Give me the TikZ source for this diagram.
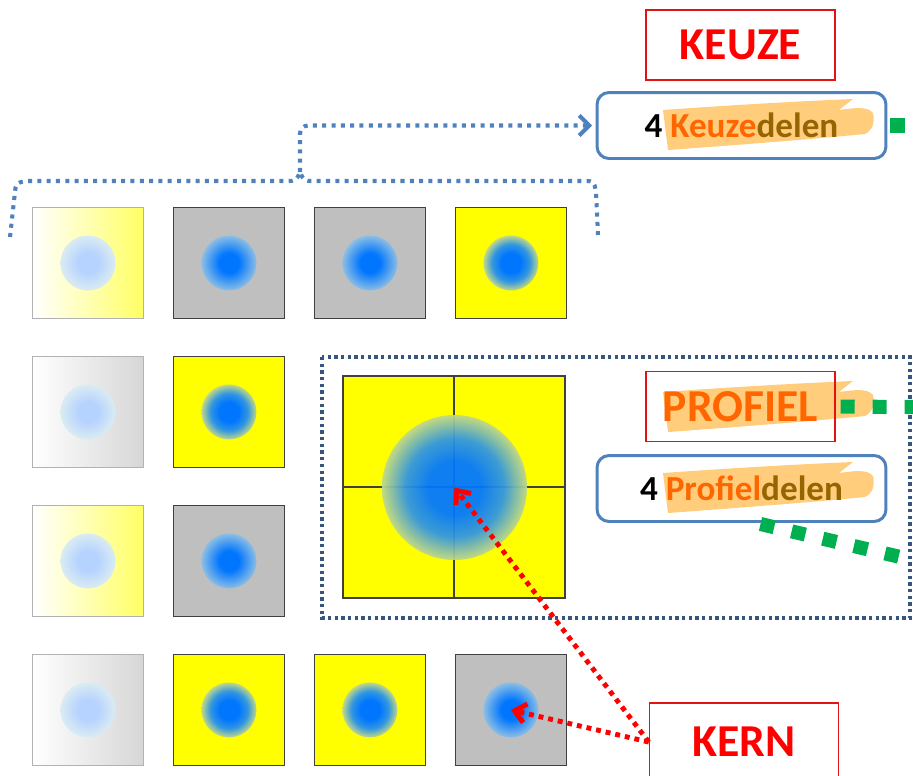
\documentclass[tikz,border=0pt]{standalone}
\usepackage{fontspec}
\setmainfont{Carlito}
\usetikzlibrary{arrows.meta, positioning, calc}

\definecolor{tilegray}{RGB}{191,191,191}
\definecolor{tileyel}{RGB}{255,255,0}
\definecolor{fadeyel}{RGB}{255,255,100}
\definecolor{coreblue}{RGB}{0,118,255}
\definecolor{edgegray}{RGB}{140,190,228}
\definecolor{edgeyel}{RGB}{192,216,135}
\definecolor{midyel}{RGB}{50,150,225}
\definecolor{palecore}{RGB}{182,210,255}
\definecolor{paleedge}{RGB}{218,236,242}
\definecolor{officeblue}{RGB}{79,129,189}
\definecolor{zoneblue}{RGB}{56,84,128}
\definecolor{markgreen}{RGB}{0,176,80}
\definecolor{textorange}{RGB}{255,102,0}
\definecolor{delenbrown}{RGB}{150,100,0}
\definecolor{hlorange}{RGB}{255,196,100}
\definecolor{framered}{RGB}{225,20,20}

\pgfdeclareradialshading{dotgray}{\pgfpoint{0bp}{0bp}}{color(0bp)=(coreblue); color(9bp)=(coreblue); color(25bp)=(edgegray); color(50bp)=(edgegray)}
\pgfdeclareradialshading{dotyellow}{\pgfpoint{0bp}{0bp}}{color(0bp)=(coreblue); color(9bp)=(coreblue); color(17bp)=(midyel); color(25bp)=(edgeyel); color(50bp)=(edgeyel)}
\pgfdeclareradialshading{dotpale}{\pgfpoint{0bp}{0bp}}{color(0bp)=(palecore); color(9bp)=(palecore); color(25bp)=(paleedge); color(50bp)=(paleedge)}

% marker stroke behind the words
\newcommand{\hlmark}[2]{%
  \fill[hlorange, fill opacity=0.85, shift={(#1,#2)}] (0,0) .. controls (70,-5) and (140,-9) .. (190,-11) -- (176,0) .. controls (190,-2) and (205,-4) .. (210,3) .. controls (212,12) and (210,20) .. (202,24) .. controls (140,30) and (60,36) .. (5,40) -- cycle;}

\tikzset{
  tile/.style={draw=black!75, line width=0.6pt, minimum size=2.22cm, inner sep=0pt},
  graytile/.style={tile, fill=tilegray},
  yeltile/.style={tile, fill=tileyel},
  fadeyeltile/.style={tile, draw=black!30, left color=white, right color=fadeyel},
  fadegraytile/.style={tile, draw=black!30, left color=white, right color=black!16},
  dotg/.style={circle, minimum size=1.1cm, inner sep=0pt, shading=dotgray},
  doty/.style={dotg, shading=dotyellow},
  dotp/.style={dotg, shading=dotpale},
  title/.style={draw=framered, line width=0.85pt, minimum width=3.78cm, minimum height=1.4cm, font=\fontsize{26}{30}\selectfont\bfseries},
  delenbox/.style={draw=officeblue, line width=1.7pt, rounded corners=0.24cm, minimum width=5.78cm, minimum height=1.32cm, font=\fontsize{20}{24}\selectfont\bfseries},
  bluedots/.style={draw=officeblue, line width=2.3pt, dash pattern=on 2.3pt off 3pt},
  zonedots/.style={draw=zoneblue, line width=1.9pt, dash pattern=on 1.9pt off 1.9pt},
  reddots/.style={draw=red, line width=2.8pt, dash pattern=on 2.8pt off 2.8pt, -{Straight Barb[length=2.2mm, width=3.8mm]}},
  greendots/.style={draw=markgreen, line width=8pt, dash pattern=on 8pt off 10.2pt},
}

\begin{document}
\begin{tikzpicture}[x=0.02cm, y=-0.02cm, node distance=2.82cm]
\useasboundingbox (0,0) rectangle (913,775);

% Tiles, row by row
\node (t11) [fadeyeltile] at (88,263) {};
\node (t12) [graytile, right of=t11] {};
\node (t13) [graytile, right of=t12] {};
\node (t14) [yeltile, right of=t13] {};
\node (t21) [fadegraytile, below of=t11, yshift=-0.16cm] {};
\node (t22) [yeltile, right of=t21] {};
\node (t31) [fadeyeltile, below of=t21, yshift=-0.16cm] {};
\node (t32) [graytile, right of=t31] {};
\node (t41) [fadegraytile, below of=t31, yshift=-0.16cm] {};
\node (t42) [yeltile, right of=t41] {};
\node (t43) [yeltile, right of=t42] {};
\node (t44) [graytile, right of=t43] {};

% Dots in the tiles
\node (d11) [dotp] at (t11) {};
\node (d12) [dotg] at (t12) {};
\node (d13) [dotg] at (t13) {};
\node (d14) [doty] at (t14) {};
\node (d21) [dotp] at (t21) {};
\node (d22) [doty] at (t22) {};
\node (d31) [dotp] at (t31) {};
\node (d32) [dotg] at (t32) {};
\node (d41) [dotp] at (t41) {};
\node (d42) [doty] at (t42) {};
\node (d43) [doty] at (t43) {};
\node (d44) [dotg] at (t44) {};

% Big block
\node (b1) [yeltile] at (398.5,431.5) {};
\node (b2) [yeltile, right of=b1, node distance=2.22cm] {};
\node (b3) [yeltile, below of=b1, node distance=2.22cm] {};
\node (b4) [yeltile, right of=b3, node distance=2.22cm] {};
\node (bigdot) [doty, minimum size=2.9cm, opacity=0.94] at (b1.south east) {};

\draw[zonedots] (322,357) rectangle (910,618);

% Markers
\hlmark{663}{110}
\hlmark{663}{392}
\hlmark{663}{473}

% Labels
\node (keuze) [title, text=red] at (740.5,45) {KEUZE};
\node (kdelen) [delenbox] at (741.5,125.5) {4 \textcolor{textorange}{Keuze}\textcolor{delenbrown}{delen}};
\node (profiel) [title, text=textorange] at (740.5,406.5) {PROFIEL};
\node (pdelen) [delenbox] at (741.5,488.5) {4 \textcolor{textorange}{Profiel}\textcolor{delenbrown}{delen}};
\node (kern) [title, text=red, minimum height=1.56cm] at (744,742) {KERN};

% Brace over the top row
\coordinate (cusp) at (300,172);
\draw[bluedots] (10,237) -- (15,192) .. controls (16,183) .. (26,181) -- (286,181) .. controls (296,181) .. (cusp) .. controls (304,181) .. (314,181) -- (584,181) .. controls (594,181) .. (596,192) -- (598,235);
\draw[bluedots, rounded corners=0.16cm, shorten >=2pt, -{Straight Barb[length=2mm, width=4mm]}] (cusp) |- (kdelen.west);

% Green leaders
\coordinate (kout) at (913,125.5);
\coordinate (pout) at (913,407);
\coordinate (pdown) at (913,560);
\draw[greendots, shorten <=1.7pt] (kdelen.east) -- (kout);
\draw[greendots, shorten <=2.8pt] (profiel.east) -- (pout);
\draw[greendots] ($(pdelen.south)+(19,1)$) -- (pdown);

% Arrows from KERN
\draw[reddots] (kern.west) -- (d44.center);
\draw[reddots] (kern.west) -- (bigdot.center);
\end{tikzpicture}
\end{document}
